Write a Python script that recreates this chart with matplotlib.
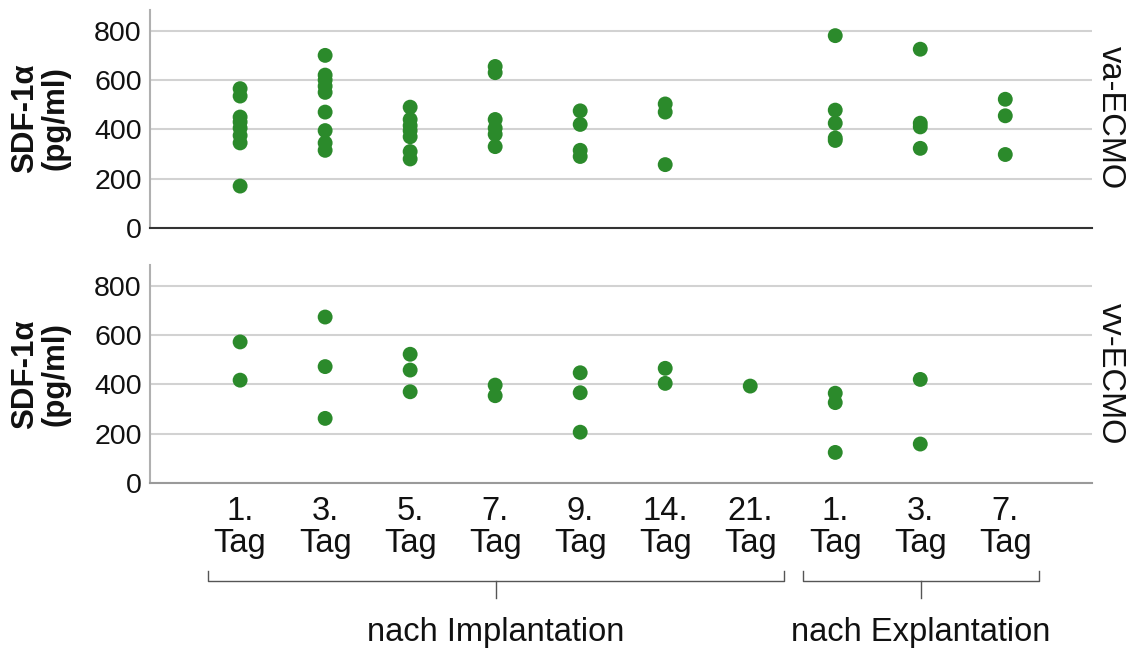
import matplotlib
matplotlib.use("Agg")
import matplotlib.pyplot as plt
from matplotlib.lines import Line2D
import matplotlib.transforms as mtransforms

plt.rcParams['font.family'] = ['Liberation Sans', 'DejaVu Sans']

# Time points (x categories)
days = ["1.\nTag", "3.\nTag", "5.\nTag", "7.\nTag", "9.\nTag", "14.\nTag", "21.\nTag",
        "1.\nTag", "3.\nTag", "7.\nTag"]

# SDF-1alpha (pg/ml) per time point, va-ECMO
va_ecmo = [
    [565, 535, 450, 430, 405, 375, 345, 170],
    [700, 620, 600, 575, 550, 470, 395, 345, 315],
    [490, 440, 415, 395, 370, 310, 280],
    [655, 630, 440, 405, 380, 330],
    [475, 420, 315, 290],
    [503, 470, 257],
    [],
    [780, 478, 425, 365, 355],
    [725, 425, 410, 323],
    [522, 455, 298],
]

# SDF-1alpha (pg/ml) per time point, vv-ECMO
vv_ecmo = [
    [572, 417],
    [673, 472, 262],
    [522, 458, 370],
    [397, 354],
    [447, 366, 206],
    [465, 404],
    [393],
    [364, 326, 124],
    [420, 158],
    [],
]

panels = ["va-ECMO", "vv-ECMO"]
groups = ["nach Implantation", "nach Explantation"]
group_members = [(0, 6), (7, 9)]

yticks = [0, 200, 400, 600, 800]

W, H = 1137, 648
fig = plt.figure(figsize=(W / 100, H / 100), dpi=100)

left, right = 150 / W, 1092 / W
ax_h = 218 / H
ax_top = fig.add_axes([left, 1 - 228 / H, right - left, ax_h])
ax_bot = fig.add_axes([left, 1 - 483 / H, right - left, ax_h])

dot_color = "#2b8a2b"
for ax, data, name, ycen in [(ax_top, va_ecmo, panels[0], 118),
                             (ax_bot, vv_ecmo, panels[1], 374)]:
    for i, vals in enumerate(data):
        if vals:
            ax.scatter([i] * len(vals), vals, s=115, color=dot_color,
                       edgecolors="none", zorder=3)
    ax.set_xlim(-1.06, 10.02)
    ax.set_ylim(0, 884)
    ax.set_yticks(yticks)
    ax.set_yticklabels([str(v) for v in yticks], fontsize=20.5)
    ax.yaxis.grid(True, color="#d2d2d2", linewidth=1.5, zorder=0)
    ax.set_axisbelow(True)
    ax.tick_params(axis="y", length=0, pad=6, colors="#111111")
    for s in ("top", "right"):
        ax.spines[s].set_visible(False)
    ax.spines["left"].set_color("#b0b0b0")
    ax.spines["left"].set_linewidth(1.5)
    ax.spines["bottom"].set_linewidth(1.5)
    # facet label on the right
    fig.text(1110 / W, 1 - ycen / H, name, rotation=270, fontsize=23.5,
             ha="center", va="center", color="#111111")
    # y-axis title
    fig.text(40 / W, 1 - ycen / H, "SDF-1α\n(pg/ml)", rotation=90,
             fontsize=22.5, fontweight="bold", ha="center", va="center",
             linespacing=1.0, color="#111111")

ax_top.spines["bottom"].set_color("#333333")
ax_bot.spines["bottom"].set_color("#9a9a9a")

ax_top.set_xticks(range(len(days)))
ax_top.tick_params(axis="x", length=0, labelbottom=False)
ax_bot.set_xticks(range(len(days)))
ax_bot.set_xticklabels(days, fontsize=23.5, linespacing=1.05, color="#111111")
ax_bot.tick_params(axis="x", length=0, pad=9)

# Group brackets below the tick labels (x in data units, y in figure pixels)
trans = mtransforms.blended_transform_factory(ax_bot.transData,
                                              fig.transFigure)
y_end, y_bar, y_mid = 1 - 571 / H, 1 - 581 / H, 1 - 598 / H
for (a, b), label in zip(group_members, groups):
    x0, x1 = a - 0.38, b + 0.40
    xm = (x0 + x1) / 2
    fig.add_artist(Line2D([x0, x0, x1, x1], [y_end, y_bar, y_bar, y_end],
                          transform=trans, color="#555555", linewidth=1.0))
    fig.add_artist(Line2D([xm, xm], [y_bar, y_mid], transform=trans,
                          color="#555555", linewidth=1.0))
    fig.text(xm, 1 - 632 / H, label, transform=trans, fontsize=23.5,
             ha="center", va="center", color="#111111")

fig.savefig("out.png", dpi=100, facecolor="white")
